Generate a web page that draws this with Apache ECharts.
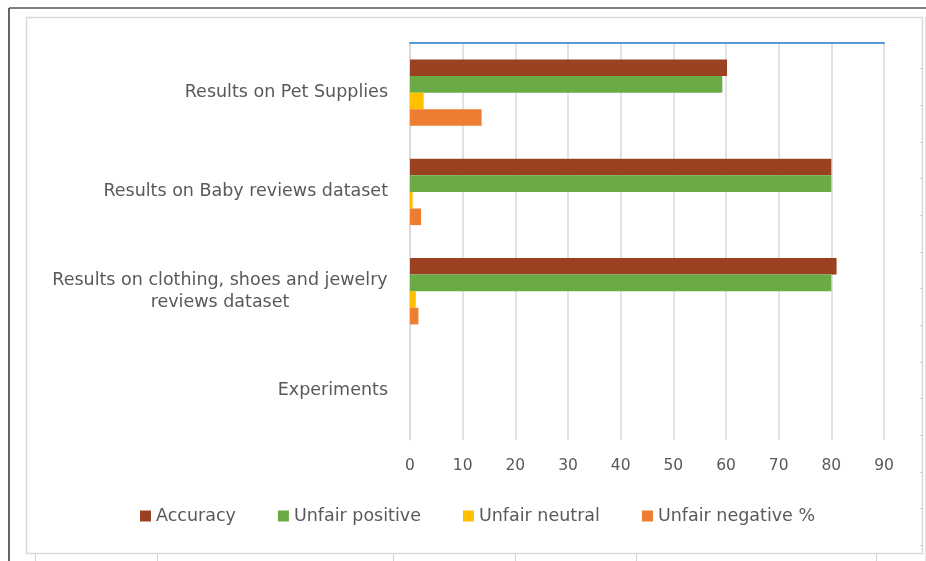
<!DOCTYPE html>
<html>
<head>
<meta charset="utf-8">
<script src="https://cdn.jsdelivr.net/npm/echarts@6/dist/echarts.min.js"></script>
<style>
html,body{margin:0;padding:0;background:#fff;}
#c{width:926px;height:561px;}
</style>
</head>
<body>
<div id="c"></div>
<script>
var categories = ['Results on Pet Supplies', 'Results on Baby reviews dataset', 'Results on clothing, shoes and jewelry reviews dataset', 'Experiments'];
var accuracy = [60.2, 80, 81, null];
var unfairPositive = [59.3, 80, 80, null];
var unfairNeutral = [2.6, 0.5, 1.1, null];
var unfairNegative = [13.6, 2.1, 1.6, null];
var xTicks = [0, 10, 20, 30, 40, 50, 60, 70, 80, 90];
var seriesNames = ['Accuracy', 'Unfair positive', 'Unfair neutral', 'Unfair negative %'];

var colors = ['#9A4122', '#6AAB45', '#FFC000', '#ED7D31'];
var chart = echarts.init(document.getElementById('c'));
var font = 'DejaVu Sans, Verdana, sans-serif';
var labelSize = 17.5;
var line1 = 'Results on clothing, shoes and jewelry';
var line2 = 'reviews dataset';

var ctx = document.createElement('canvas').getContext('2d');
ctx.font = labelSize + 'px ' + font;
var wrapWidth = Math.ceil(ctx.measureText(line1).width);

function mk(i, data) {
  return {
    name: seriesNames[i], type: 'bar', data: data,
    itemStyle: {color: colors[i]},
    barGap: '0%', barCategoryGap: '33%'
  };
}

// decorative frame of the spreadsheet screenshot
var frame = [
  {type: 'line', shape: {x1: 9, y1: 8, x2: 926, y2: 8}, style: {stroke: '#555', lineWidth: 1.5}},
  {type: 'line', shape: {x1: 9, y1: 8, x2: 9, y2: 561}, style: {stroke: '#333', lineWidth: 1.5}},
  {type: 'rect', shape: {x: 26.5, y: 17.5, width: 896, height: 536}, style: {fill: 'none', stroke: '#DADADA', lineWidth: 1.5}},
  {type: 'line', shape: {x1: 925.5, y1: 17, x2: 925.5, y2: 561}, style: {stroke: '#E4E4E4', lineWidth: 1}}
];
[68, 105, 142, 178, 215, 252, 288, 325, 362, 398, 435, 472, 508, 545].forEach(function (y) {
  frame.push({type: 'line', shape: {x1: 920, y1: y + 0.5, x2: 923, y2: y + 0.5}, style: {stroke: '#D0D0D0', lineWidth: 1}});
});
[35, 157, 393, 515, 636, 876].forEach(function (x) {
  frame.push({type: 'line', shape: {x1: x + 0.5, y1: 554, x2: x + 0.5, y2: 561}, style: {stroke: '#D0D0D0', lineWidth: 1}});
});

chart.setOption({
  animation: false,
  color: colors,
  graphic: frame,
  grid: {left: 410, right: 42, top: 43, bottom: 121, containLabel: false},
  legend: {
    data: seriesNames, bottom: 31, left: 135,
    itemWidth: 11, itemHeight: 11, itemGap: 42, icon: 'rect',
    textStyle: {color: '#595959', fontSize: 17.5, fontFamily: font}
  },
  xAxis: [{
    type: 'value', min: 0, max: 90, interval: 10,
    axisLine: {show: false}, axisTick: {show: false},
    axisLabel: {color: '#595959', fontSize: 15.5, fontFamily: font, margin: 18,
      formatter: function (v) { return xTicks.indexOf(v) >= 0 ? String(v) : ''; }},
    splitLine: {show: true, lineStyle: {color: '#D9D9D9', width: 1.5}}
  }, {
    type: 'value', min: 0, max: 90, position: 'top',
    axisLine: {show: true, lineStyle: {color: '#5B9BD5', width: 2}},
    axisTick: {show: false}, axisLabel: {show: false}, splitLine: {show: false}
  }],
  yAxis: {
    type: 'category', data: categories, inverse: true,
    axisLine: {show: true, lineStyle: {color: '#D9D9D9', width: 1.5}},
    axisTick: {show: false},
    axisLabel: {
      color: '#595959', fontSize: labelSize, fontFamily: font, margin: 22,
      formatter: function (v) {
        if (v.indexOf('clothing') >= 0) {
          return '{c|' + line1 + '}\n{c|' + line2 + '}';
        }
        return v;
      },
      rich: {c: {width: wrapWidth, align: 'center', color: '#595959', fontSize: labelSize, fontFamily: font, lineHeight: 22}}
    }
  },
  series: [mk(0, accuracy), mk(1, unfairPositive), mk(2, unfairNeutral), mk(3, unfairNegative)]
});
</script>
</body>
</html>
